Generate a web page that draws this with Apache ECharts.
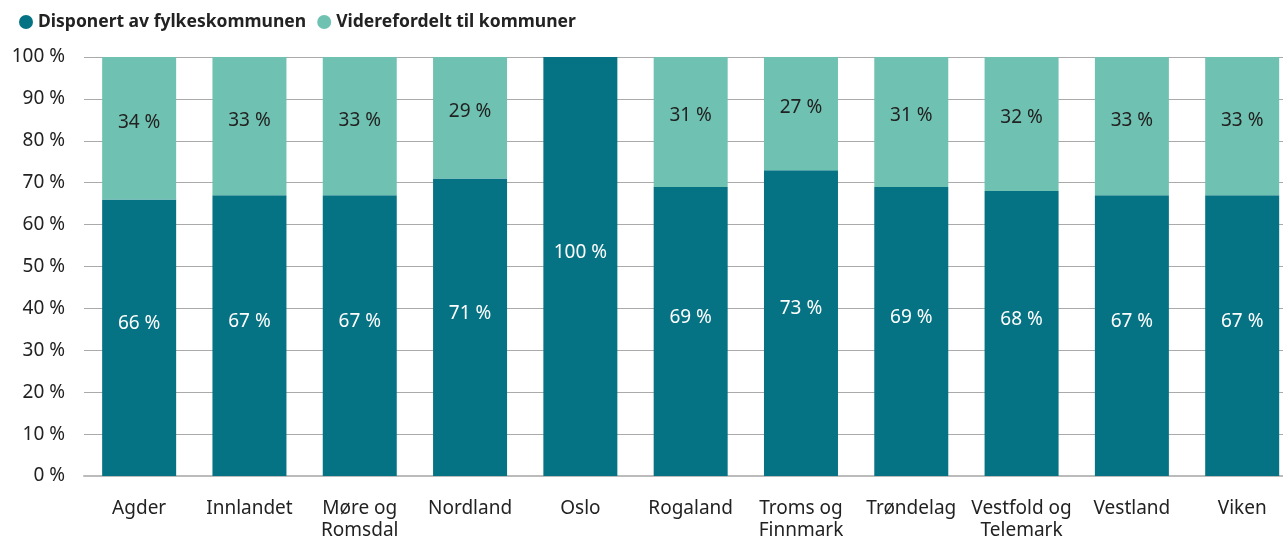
<!DOCTYPE html>
<html>
<head>
<meta charset="utf-8">
<script src="https://cdn.jsdelivr.net/npm/echarts@6/dist/echarts.min.js"></script>
<style>
  html, body { margin: 0; padding: 0; background: #fff; }
  #chart { width: 1283px; height: 542px; }
</style>
</head>
<body>
<div id="chart"></div>
<script>
// fylker
const categories = ['Agder', 'Innlandet', 'Møre og\nRomsdal', 'Nordland', 'Oslo', 'Rogaland',
  'Troms og\nFinnmark', 'Trøndelag', 'Vestfold og\nTelemark', 'Vestland', 'Viken'];
// andel disponert av fylkeskommunen (%)
const disponert = [66, 67, 67, 71, 100, 69, 73, 69, 68, 67, 67];
// andel viderefordelt til kommuner (%)
const viderefordelt = [34, 33, 33, 29, 0, 31, 27, 31, 32, 33, 33];
const yTicks = [0, 10, 20, 30, 40, 50, 60, 70, 80, 90, 100];

const FONT = '"Noto Sans", "Open Sans", sans-serif';
const chart = echarts.init(document.getElementById('chart'), null, { renderer: 'canvas' });

// x er indeks i categories; plottet går litt forbi høyre kant som i originalen
const idx = categories.map((c, i) => i);

// prosent først, slik at stablingen skjer på y
function barData(values) {
  return values.map((v, i) => [v, i]);
}

let option = {
  backgroundColor: '#ffffff',
  textStyle: { fontFamily: FONT },
  legend: {
    left: 14,
    top: 8,
    icon: 'circle',
    itemWidth: 14,
    itemHeight: 14,
    itemGap: 11,
    textStyle: { fontFamily: FONT, fontSize: 17.5, fontWeight: 'bold', color: '#222' },
    data: ['Disponert av fylkeskommunen', 'Viderefordelt til kommuner']
  },
  grid: { left: 84, right: 0, top: 57, height: 423 },
  xAxis: {
    type: 'value',
    min: -0.5,
    max: 10.37,
    splitLine: { show: false },
    axisTick: { show: false },
    axisLine: { lineStyle: { color: '#bbb', width: 2 } },
    axisLabel: {
      customValues: idx,
      fontFamily: FONT, fontSize: 19, color: '#222', margin: 22, lineHeight: 22,
      formatter: v => categories[v] || ''
    }
  },
  yAxis: {
    type: 'value',
    min: 0,
    max: 100,
    interval: 10,
    axisLine: { show: false },
    axisTick: { show: false },
    splitLine: { lineStyle: { color: '#aaa', width: 1 } },
    axisLabel: {
      fontFamily: FONT, fontSize: 19, color: '#222', margin: 19,
      formatter: v => yTicks.indexOf(v) > -1 ? v + ' %' : ''
    }
  },
  series: [{
    name: 'Disponert av fylkeskommunen',
    type: 'bar',
    stack: 'total',
    barWidth: 74,
    dimensions: ['pct', 'idx'],
    encode: { x: 'idx', y: 'pct' },
    itemStyle: { color: '#067384' },
    label: {
      show: true, position: 'inside', offset: [0, -14],
      fontFamily: FONT, fontSize: 19, color: '#fff',
      formatter: p => p.value[0] > 0 ? p.value[0] + ' %' : ''
    },
    data: barData(disponert)
  }, {
    name: 'Viderefordelt til kommuner',
    type: 'bar',
    stack: 'total',
    barWidth: 74,
    dimensions: ['pct', 'idx'],
    encode: { x: 'idx', y: 'pct' },
    itemStyle: { color: '#6fc2b1' },
    label: {
      show: true, position: 'inside', offset: [0, -6],
      fontFamily: FONT, fontSize: 19, color: '#222',
      formatter: p => p.value[0] > 0 ? p.value[0] + ' %' : ''
    },
    data: barData(viderefordelt)
  }]
};
chart.setOption(option);
</script>
</body>
</html>
